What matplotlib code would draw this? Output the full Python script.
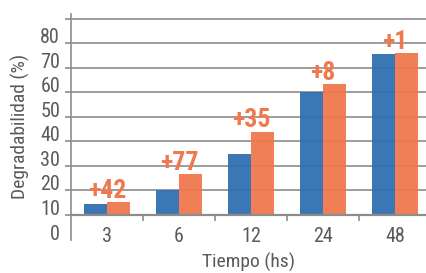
import numpy as np
import matplotlib
matplotlib.use('Agg')
import matplotlib.pyplot as plt

# data
horas = ['3', '6', '12', '24', '48']
serie_azul = [14.4, 20.2, 34.9, 60.2, 75.6]
serie_naranja = [15.4, 26.7, 44.0, 63.5, 76.0]
etiquetas = ['+42', '+77', '+35', '+8', '+1']
base = 10
y_grid = [10, 20, 30, 40, 50, 60, 70, 80, 90]
y_labels = ['10', '20', '30', '40', '50', '60', '70', '80', '']

AZUL = '#3070b0'
NARANJA = '#f0784f'
GRIS = '#8c8c8c'
TEXTO = '#5a5a5a'

plt.rcParams['font.family'] = ['Roboto Condensed', 'Liberation Sans Narrow', 'Liberation Sans', 'DejaVu Sans']

fig = plt.figure(figsize=(4.26, 2.73), dpi=100)
ax = fig.add_axes([71 / 426, 33.5 / 273, 355 / 426, 225.5 / 273])

x = np.arange(len(horas))
w = 0.32
ax.bar(x - w / 2, np.array(serie_azul) - base, w, bottom=base, color=AZUL, alpha=0.95, zorder=2)
ax.bar(x + w / 2, np.array(serie_naranja) - base, w, bottom=base, color=NARANJA, alpha=0.95, zorder=2)

for i, lab in enumerate(etiquetas):
    top = max(serie_azul[i], serie_naranja[i])
    ax.annotate(lab, (x[i], top), xytext=(0, 3), textcoords='offset points',
                ha='center', va='baseline', color=NARANJA, fontsize=18.5,
                fontweight='bold', zorder=3)

ax.set_xlim(-0.5, 4.43)
ax.set_ylim(0, 92)

# y axis: gridlines from 10 up, labels sitting on the lines
ax.set_yticks(y_grid)
ax.set_yticklabels(y_labels)
ax.set_yticks([0], minor=True)
ax.set_yticklabels(['0'], minor=True)
ax.tick_params(axis='y', which='major', length=4.3, width=1.2, color=GRIS, pad=3.6,
               labelsize=14.5, labelcolor=TEXTO)
ax.tick_params(axis='y', which='minor', length=0, pad=7.9, labelsize=14.5, labelcolor=TEXTO)
for t in ax.get_yticklabels() + ax.get_yticklabels(minor=True):
    t.set_verticalalignment('baseline')
ax.grid(axis='y', which='major', color=GRIS, linewidth=1.2, zorder=1)
ax.set_axisbelow(True)

# x axis: labels at centres, small marks between groups
ax.set_xticks(x)
ax.set_xticklabels(horas)
ax.set_xticks(x[:-1] + 0.5, minor=True)
ax.tick_params(axis='x', which='major', length=0, pad=8.6, labelsize=14.5, labelcolor=TEXTO)
ax.tick_params(axis='x', which='minor', length=4, width=1.2, color=GRIS, direction='out')

for s in ['top', 'right']:
    ax.spines[s].set_visible(False)
ax.spines['bottom'].set_position(('data', base))
ax.spines['bottom'].set_color(GRIS)
ax.spines['bottom'].set_linewidth(1.6)
ax.spines['left'].set_color(GRIS)
ax.spines['left'].set_linewidth(1.2)

ax.set_ylabel('Degradabilidad (%)', fontsize=14, color=TEXTO)
ax.yaxis.set_label_coords(-0.115, 0.5)
ax.set_xlabel('Tiempo (hs)', fontsize=14, color=TEXTO)
ax.xaxis.set_label_coords(0.5, -0.058)

fig.savefig('out.png', dpi=100)
